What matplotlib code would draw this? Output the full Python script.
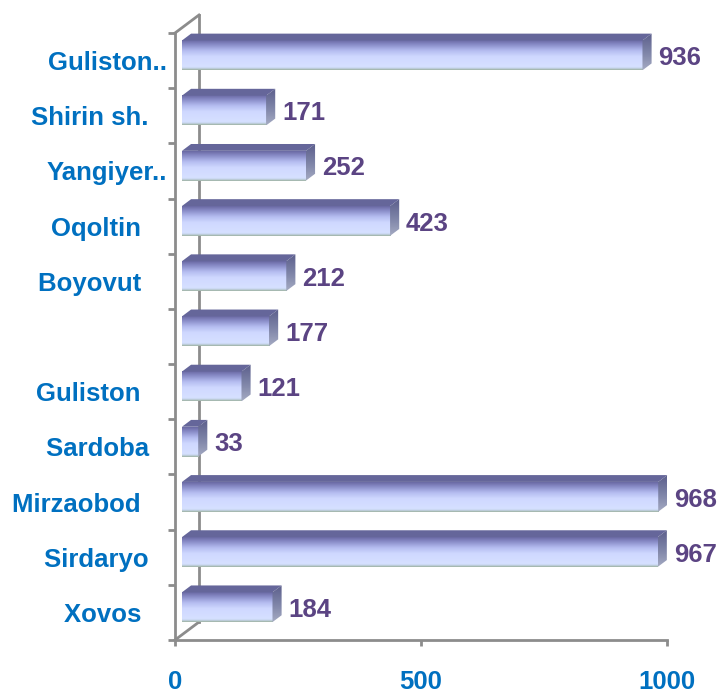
import numpy as np
import matplotlib
matplotlib.use('Agg')
import matplotlib.pyplot as plt
from matplotlib.patches import Polygon
from matplotlib.lines import Line2D
from matplotlib.transforms import IdentityTransform
from matplotlib.colors import LinearSegmentedColormap

# ---- data ----
categories = ["Guliston..", "Shirin sh.\u2002\u2009", "Yangiyer..", "Oqoltin\u2003",
              "Boyovut\u2003", "", "Guliston\u2003", "Sardoba\u2002\u2009",
              "Mirzaobod\u2003", "Sirdaryo\u2002\u2009", "Xovos\u2003"]
values = [936, 171, 252, 423, 212, 177, 121, 33, 968, 967, 184]
x_ticks = [0, 500, 1000]
x_max = 1000

# ---- style ----
W, H, DPI = 719, 693, 100
LABEL_BLUE = '#0070C0'
VALUE_PURPLE = '#5B4483'
AXIS_GRAY = '#8C8C8C'
FONT = 'Liberation Sans'
FS = 18.5
DEPTH = (24.0, 18.0)          # wall depth in pixels
BAR_F, BAR_B = 0.29, 0.67     # bar front/back position inside depth
BAR_H = 0.54

plt.rcParams['font.family'] = [FONT, 'DejaVu Sans']

fig = plt.figure(figsize=(W / DPI, H / DPI), dpi=DPI)
ax = fig.add_axes([175 / W, (H - 640) / H, 492 / W, 607 / H])
n = len(categories)
ypos = np.arange(n)[::-1]
ax.set_xlim(0, x_max)
ax.set_ylim(-0.5, n - 0.5)
ax.set_autoscale_on(False)
ax.patch.set_alpha(0)

for s in ['top', 'right']:
    ax.spines[s].set_visible(False)
for s in ['left', 'bottom']:
    ax.spines[s].set_color(AXIS_GRAY)
    ax.spines[s].set_linewidth(2)

ax.set_yticks(ypos)
ax.set_yticklabels(categories, fontsize=FS, fontweight='bold', color=LABEL_BLUE)
ax.tick_params(axis='y', which='major', length=0, pad=6)
ax.set_yticks(np.arange(n + 1) - 0.5, minor=True)
ax.tick_params(axis='y', which='minor', length=5, width=2, color=AXIS_GRAY)
ax.set_xticks(x_ticks)
ax.set_xticklabels([str(t) for t in x_ticks], fontsize=FS, fontweight='bold', color=LABEL_BLUE)
ax.tick_params(axis='x', length=4.5, width=2, color=AXIS_GRAY, pad=17)

fig.canvas.draw()
T = ax.transData
idt = IdentityTransform()
dx, dy = DEPTH
fx, fy = dx * BAR_F, dy * BAR_F
bx, by = dx * BAR_B, dy * BAR_B

# ---- walls ----
ylo, yhi = ax.get_ylim()
p_bot = T.transform((0, ylo))
p_top = T.transform((0, yhi))
wall_lines = [
    [p_top, p_top + (dx, dy)],
    [p_bot + (dx, dy), p_top + (dx, dy)],
    [p_bot, p_bot + (dx, dy)],
]
for seg in wall_lines:
    seg = np.array(seg)
    ax.add_line(Line2D(seg[:, 0], seg[:, 1], transform=idt, color=AXIS_GRAY,
                       lw=2, clip_on=False, zorder=1))

front_cmap = LinearSegmentedColormap.from_list('front', [
    (0.0, '#6a6aa4'), (0.12, '#8486c2'), (0.35, '#b4bcf0'), (0.55, '#cfd8ff'),
    (0.9, '#d6e0ff'), (0.94, '#c8d6ee'), (1.0, '#9fb3a4')])
side_cmap = LinearSegmentedColormap.from_list('side', ['#5c5f8c', '#7c82a6', '#a4aac2'])
grad = np.linspace(0, 1, 64).reshape(-1, 1)

for y, v in zip(ypos, values):
    x0, y0 = T.transform((0, y - BAR_H / 2))
    x1, y1 = T.transform((v, y + BAR_H / 2))
    # front face
    ax.imshow(grad, cmap=front_cmap, aspect='auto', interpolation='bilinear',
              extent=(x0 + fx, x1 + fx, y0 + fy, y1 + fy), transform=idt,
              zorder=3, clip_on=False)
    # top face
    top = Polygon([(x0 + fx, y1 + fy), (x1 + fx, y1 + fy), (x1 + bx, y1 + by),
                   (x0 + bx, y1 + by)], closed=True, transform=idt,
                  facecolor='#65669a', edgecolor='none', zorder=3, clip_on=False)
    ax.add_patch(top)
    # side face
    side = Polygon([(x1 + fx, y0 + fy), (x1 + fx, y1 + fy), (x1 + bx, y1 + by),
                    (x1 + bx, y0 + by)], closed=True, transform=idt,
                   facecolor='none', edgecolor='none', zorder=3, clip_on=False)
    ax.add_patch(side)
    im = ax.imshow(grad, cmap=side_cmap, aspect='auto', interpolation='bilinear',
                   extent=(x1 + fx, x1 + bx, y0 + fy, y1 + by), transform=idt,
                   zorder=3, clip_on=True)
    im.set_clip_path(side)
    # value label
    ax.annotate(str(v), xy=(v, y), xytext=(23, 2.5), textcoords='offset pixels',
                ha='left', va='center', fontsize=FS, fontweight='bold',
                color=VALUE_PURPLE, annotation_clip=False, zorder=5)

ax.set_xlim(0, x_max)
ax.set_ylim(-0.5, n - 0.5)
fig.savefig('out.png', dpi=DPI)
